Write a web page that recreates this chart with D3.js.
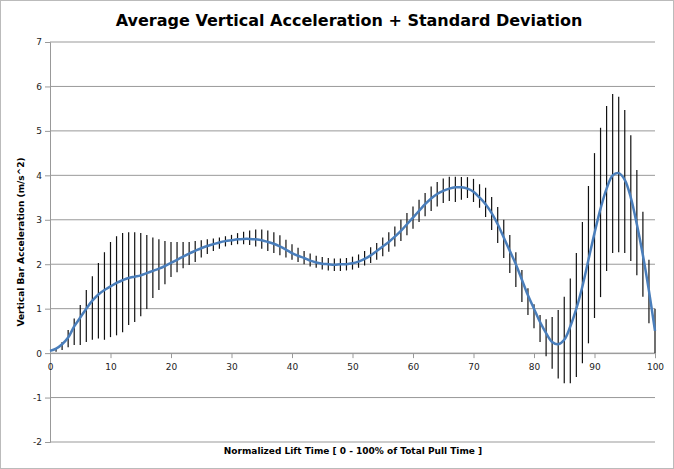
<!DOCTYPE html><html><head><meta charset="utf-8"><script src="https://cdn.jsdelivr.net/npm/d3@7"></script>
<style>body{margin:0;background:#fff}svg{display:block}text{font-family:"DejaVu Sans",sans-serif}</style></head><body><svg width="674" height="469"></svg><script>
const xIdx = d3.range(0,101);
const meanVals = [0.05,0.1,0.2,0.35,0.6,0.8,1.0,1.18,1.32,1.42,1.5,1.58,1.64,1.69,1.72,1.75,1.8,1.85,1.9,1.96,2.03,2.1,2.17,2.24,2.3,2.36,2.41,2.45,2.49,2.52,2.54,2.56,2.57,2.57,2.56,2.54,2.5,2.46,2.4,2.33,2.25,2.19,2.14,2.08,2.04,2.01,2.0,1.99,2.0,2.0,2.02,2.06,2.12,2.2,2.3,2.4,2.5,2.62,2.75,2.9,3.05,3.2,3.35,3.48,3.58,3.65,3.7,3.73,3.73,3.7,3.63,3.5,3.35,3.15,2.9,2.6,2.3,2.0,1.65,1.3,1.0,0.7,0.45,0.25,0.2,0.3,0.6,1.0,1.5,2.1,2.7,3.25,3.7,4.0,4.05,3.9,3.5,2.9,2.2,1.4,0.5];
const upperVals = [null,0.1,0.25,0.52,0.78,1.08,1.42,1.73,2.03,2.27,2.5,2.63,2.7,2.72,2.72,2.7,2.66,2.6,2.56,2.52,2.5,2.5,2.5,2.5,2.52,2.54,2.56,2.58,2.6,2.63,2.66,2.7,2.73,2.76,2.78,2.78,2.76,2.72,2.65,2.55,2.45,2.37,2.3,2.24,2.19,2.16,2.14,2.13,2.13,2.14,2.17,2.22,2.3,2.38,2.48,2.6,2.72,2.85,3.0,3.15,3.3,3.45,3.6,3.75,3.85,3.93,3.97,3.97,3.96,3.96,3.92,3.8,3.72,3.51,3.29,3.0,2.66,2.27,1.87,1.46,1.1,0.86,0.76,0.81,0.97,1.27,1.68,2.25,2.95,3.76,4.5,5.07,5.56,5.83,5.77,5.47,4.9,4.12,3.18,2.1,1.0];
const lowerVals = [null,0.03,0.07,0.13,0.18,0.18,0.25,0.3,0.33,0.3,0.36,0.4,0.47,0.63,0.7,0.83,0.99,1.24,1.42,1.55,1.71,1.82,1.91,1.98,2.05,2.15,2.23,2.3,2.35,2.4,2.43,2.45,2.45,2.43,2.4,2.35,2.3,2.25,2.2,2.15,2.1,2.05,2.0,1.95,1.92,1.88,1.86,1.85,1.85,1.86,1.88,1.92,1.97,2.03,2.1,2.18,2.28,2.4,2.52,2.65,2.8,2.95,3.08,3.2,3.3,3.38,3.42,3.4,3.45,3.49,3.4,3.27,3.06,2.77,2.48,2.14,1.8,1.49,1.15,0.86,0.56,0.25,-0.07,-0.35,-0.57,-0.68,-0.68,-0.54,-0.23,0.22,0.79,1.26,1.85,2.25,2.27,2.25,2.07,1.75,1.27,0.67,0.0];
const xTicks = [0,10,20,30,40,50,60,70,80,90,100];
const yTicks = [-2,-1,0,1,2,3,4,5,6,7];

const svg = d3.select("svg");
svg.append("rect").attr("x",0.5).attr("y",0.5).attr("width",673).attr("height",468).attr("fill","#fff").attr("stroke","#bbb");
const x = d3.scaleLinear().domain([0,100]).range([50,655]);
const y = d3.scaleLinear().domain([-2,7]).range([442,42]);
svg.append("g").selectAll("line").data(yTicks).join("line")
 .attr("x1",50).attr("x2",655).attr("y1",d=>y(d)).attr("y2",d=>y(d)).attr("stroke","#999").attr("stroke-width",1);
svg.append("g").attr("transform","translate(50,0)").call(d3.axisLeft(y).tickValues(yTicks).tickSize(5).tickFormat(d=>String(d)))
 .call(g=>{g.select(".domain").attr("stroke","#999");g.selectAll("line").attr("stroke","#999");g.selectAll("text").attr("font-size",9).attr("fill","#222").attr("font-family","DejaVu Sans");});
svg.append("g").attr("transform",`translate(0,${y(0)})`).call(d3.axisBottom(x).tickValues(xTicks).tickSize(5).tickPadding(6))
 .call(g=>{g.select(".domain").attr("stroke","#999");g.selectAll("line").attr("stroke","#999");g.selectAll("text").attr("font-size",9).attr("fill","#222").attr("font-family","DejaVu Sans");});
const bars = xIdx.filter(i=>upperVals[i]!=null);
svg.append("g").selectAll("line").data(bars).join("line")
 .attr("x1",i=>x(i)).attr("x2",i=>x(i)).attr("y1",i=>y(upperVals[i])).attr("y2",i=>y(lowerVals[i])).attr("stroke","#111").attr("stroke-width",1.2);
svg.append("path").datum(xIdx).attr("fill","none").attr("stroke","#4a7ebb").attr("stroke-width",2.5)
 .attr("d",d3.line().x(i=>x(i)).y(i=>y(meanVals[i])).curve(d3.curveCatmullRom));
svg.append("text").attr("x",349).attr("y",26).attr("text-anchor","middle").attr("font-size",16).attr("font-weight","bold").text("Average Vertical Acceleration + Standard Deviation");
svg.append("text").attr("x",353).attr("y",454).attr("text-anchor","middle").attr("font-size",9).attr("font-weight","bold").text("Normalized Lift Time [ 0 - 100% of Total Pull Time ]");
svg.append("text").attr("transform","translate(24,242) rotate(-90)").attr("text-anchor","middle").attr("font-size",9).attr("font-weight","bold").text("Vertical Bar Acceleration (m/s^2)");
</script></body></html>
